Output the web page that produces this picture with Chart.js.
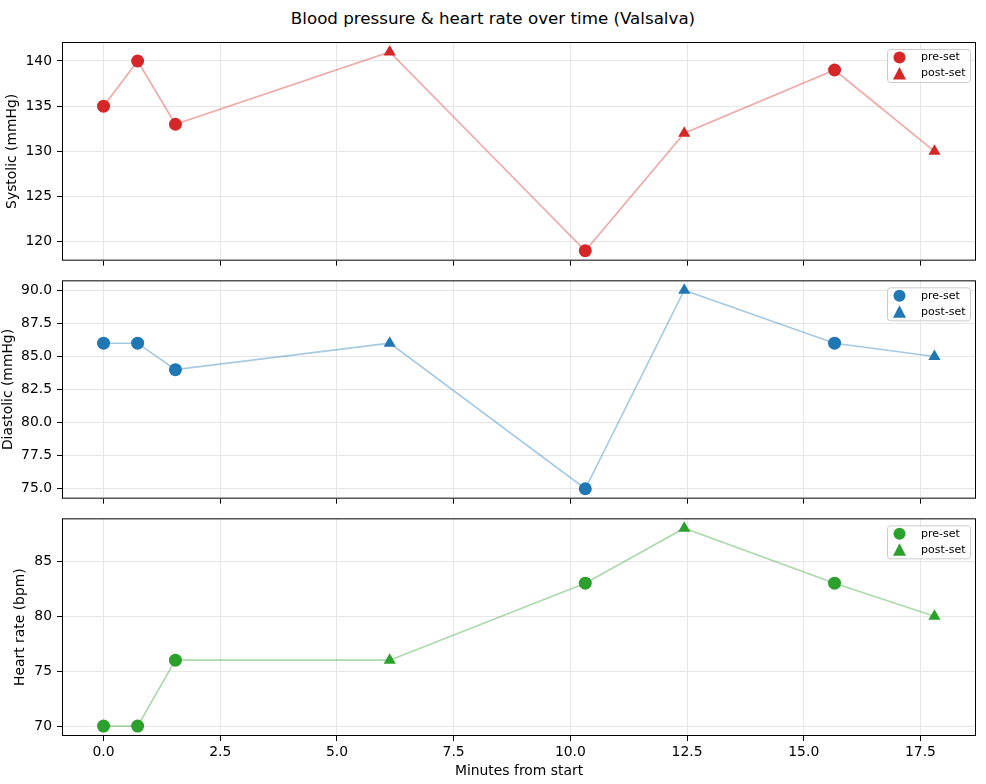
<!DOCTYPE html>
<html>
<head>
<meta charset="utf-8">
<script src="https://cdn.jsdelivr.net/npm/chart.js@4.4.1/dist/chart.umd.min.js"></script>
<style>
body { margin: 0; background: #fff; }
#wrap { position: relative; width: 986px; height: 784px; font-family: "DejaVu Sans", sans-serif; }
#title { position: absolute; left: 0; top: 8px; width: 986px; text-align: center; font-size: 16.7px; line-height: 20px; color: #000; }
.panel { position: absolute; left: 0; width: 986px; }
</style>
</head>
<body>
<div id="wrap">
  <div id="title">Blood pressure &amp; heart rate over time (Valsalva)</div>
  <div class="panel" style="top:0;height:274px"><canvas id="c1"></canvas></div>
  <div class="panel" style="top:267px;height:245px"><canvas id="c2"></canvas></div>
  <div class="panel" style="top:505px;height:279px"><canvas id="c3"></canvas></div>
</div>
<script>
// valeurs
var minutes = [0, 0.73, 1.54, 6.13, 10.32, 12.44, 15.66, 17.8];
var phase = ['pre', 'pre', 'pre', 'post', 'pre', 'post', 'pre', 'post'];
var systolic = [135, 140, 133, 141, 119, 132, 139, 130];
var diastolic = [86, 86, 84, 86, 75, 90, 86, 85];
var heartRate = [70, 70, 76, 76, 83, 88, 83, 80];
var xTickStep = 2.5;

var fontSize = 13.9;

// marge de 5% comme matplotlib
function padRange(arr) {
  var lo = Math.min.apply(null, arr), hi = Math.max.apply(null, arr);
  var m = (hi - lo) * 0.05;
  return [lo - m, hi + m];
}

var xRange = padRange(minutes);

// cadre noir autour de la zone
var framePlugin = {
  id: 'frame',
  afterDraw: function(chart) {
    var a = chart.chartArea, ctx = chart.ctx;
    ctx.save();
    ctx.strokeStyle = '#000';
    ctx.lineWidth = 1;
    ctx.strokeRect(a.left + 0.5, a.top + 0.5, a.right - a.left - 1, a.bottom - a.top - 1);
    ctx.restore();
  }
};

// légende dans le coin en haut à droite
var legendPlugin = {
  id: 'innerLegend',
  afterDraw: function(chart) {
    var a = chart.chartArea, ctx = chart.ctx;
    var bx = a.right - 89, by = a.top + 7, bw = 83, bh = 33;
    ctx.save();
    ctx.beginPath();
    ctx.roundRect(bx + 0.5, by + 0.5, bw, bh, 3);
    ctx.fillStyle = 'rgba(255,255,255,0.8)';
    ctx.fill();
    ctx.strokeStyle = '#cccccc';
    ctx.lineWidth = 1;
    ctx.stroke();
    var items = chart.data.datasets.filter(function(d) { return d.label; });
    items.forEach(function(d, i) {
      var mx = bx + 12.5, my = by + 8.5 + i * 16;
      ctx.fillStyle = d.backgroundColor;
      ctx.beginPath();
      if (d.pointStyle === 'triangle') {
        ctx.moveTo(mx, my - 6.5);
        ctx.lineTo(mx - 6.5, my + 6);
        ctx.lineTo(mx + 6.5, my + 6);
        ctx.closePath();
      } else {
        ctx.arc(mx, my, 6, 0, Math.PI * 2);
      }
      ctx.fill();
      ctx.fillStyle = '#000';
      ctx.font = '11px "DejaVu Sans"';
      ctx.textBaseline = 'middle';
      ctx.textAlign = 'left';
      ctx.fillText(d.label, bx + 34, my);
    });
    ctx.restore();
  }
};

function pick(values, which) {
  var out = [];
  for (var i = 0; i < minutes.length; i++) {
    if (phase[i] === which) out.push({ x: minutes[i], y: values[i] });
  }
  return out;
}

function makePanel(id, values, color, lineColor, yTitle, yStep, yDecimals, titlePad, padTop, bottomH, showX) {
  var yRange = padRange(values);
  var all = minutes.map(function(m, i) { return { x: m, y: values[i] }; });
  return new Chart(document.getElementById(id), {
    type: 'scatter',
    data: {
      datasets: [
        { label: 'pre-set', data: pick(values, 'pre'), pointStyle: 'circle', pointRadius: 6.5,
          backgroundColor: color, borderColor: color, pointBorderWidth: 0 },
        { label: 'post-set', data: pick(values, 'post'), pointStyle: 'triangle', pointRadius: 7,
          backgroundColor: color, borderColor: color, pointBorderWidth: 0 },
        { data: all, showLine: true, pointRadius: 0, borderColor: lineColor, borderWidth: 1.6,
          backgroundColor: lineColor }
      ]
    },
    options: {
      responsive: true,
      maintainAspectRatio: false,
      animation: false,
      events: [],
      layout: { padding: { top: padTop, right: 10, left: 0, bottom: 0 } },
      plugins: { legend: { display: false }, tooltip: { enabled: false } },
      scales: {
        x: {
          type: 'linear',
          min: xRange[0],
          max: xRange[1],
          border: { display: false },
          grid: { color: '#e6e6e6', lineWidth: 1, tickColor: '#000', tickLength: 5 },
          ticks: {
            display: showX, stepSize: xTickStep, includeBounds: false, color: '#000', padding: 3,
            font: { family: 'DejaVu Sans', size: fontSize }, maxRotation: 0,
            callback: function(v) { return v.toFixed(1); }
          },
          title: {
            display: showX, text: 'Minutes from start', color: '#000',
            font: { family: 'DejaVu Sans', size: fontSize }, padding: { top: 0, bottom: 4.5 }
          },
          afterFit: function(s) { s.height = bottomH; }
        },
        y: {
          min: yRange[0],
          max: yRange[1],
          border: { display: false },
          grid: { color: '#e6e6e6', lineWidth: 1, tickColor: '#000', tickLength: 5 },
          ticks: {
            stepSize: yStep, includeBounds: false, color: '#000', padding: 5,
            font: { family: 'DejaVu Sans', size: fontSize },
            callback: function(v) { return v.toFixed(yDecimals); }
          },
          title: {
            display: true, text: yTitle, color: '#000',
            font: { family: 'DejaVu Sans', size: fontSize }, padding: { top: titlePad, bottom: 0 }
          },
          afterFit: function(s) { s.width = 62; }
        }
      }
    },
    plugins: [framePlugin, legendPlugin]
  });
}

makePanel('c1', systolic, '#d62728', 'rgba(214,39,40,0.4)', 'Systolic (mmHg)', 5, 0, 3.7, 42, 10, false);
makePanel('c2', diastolic, '#1f77b4', 'rgba(31,119,180,0.4)', 'Diastolic (mmHg)', 2.5, 1, 0, 10, 10, false);
makePanel('c3', heartRate, '#2ca02c', 'rgba(44,160,44,0.4)', 'Heart rate (bpm)', 5, 0, 11.7, 10, 48, true);
</script>
</body>
</html>
